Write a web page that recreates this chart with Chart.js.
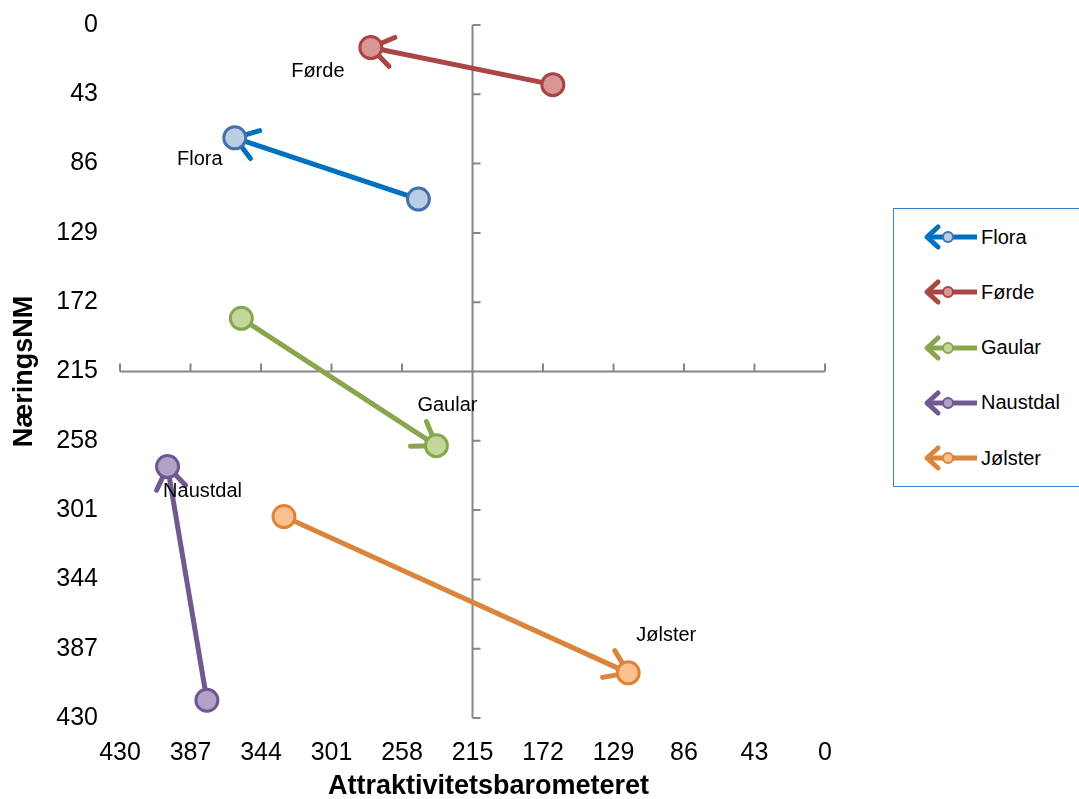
<!DOCTYPE html>
<html>
<head>
<meta charset="utf-8">
<script src="https://cdn.jsdelivr.net/npm/chart.js@4"></script>
<style>
  body { margin: 0; background: #fff; font-family: "Liberation Sans", Arial, sans-serif; }
  #wrap { position: relative; width: 1079px; height: 799px; }
  #legend { position: absolute; left: 893px; top: 208px; width: 200px; height: 279px;
    border: 1.5px solid #3A7FD0; box-sizing: border-box; background: #fff; }
  .item { position: absolute; left: 28px; height: 28px; display: flex; align-items: center;
    font-size: 20px; color: #000; }
  .item svg { margin-right: 3px; }
</style>
</head>
<body>
<div id="wrap">
  <canvas id="chart" width="1079" height="799"></canvas>
  <div id="legend"></div>
</div>
<script>
const names = ["Flora", "Førde", "Gaular", "Naustdal", "Jølster"];
// start -> end
const fromX = [248, 166, 356, 377, 330];
const fromY = [108, 37, 182, 419, 305];
const toX = [360, 277, 237, 401, 120];
const toY = [70, 14, 261, 274, 402];
const axisTicks = [0, 43, 86, 129, 172, 215, 258, 301, 344, 387, 430];

const lineColors = ["#0070C0", "#AA4643", "#89A54E", "#71588F", "#DB843D"];
const fillColors = ["#B9CDE5", "#D99694", "#C3D69B", "#B3A2C7", "#FAC090"];
const edgeColors = ["#4470AB", "#A94442", "#86A84C", "#6E5690", "#DF8437"];
const labelOffsets = [[-35, 22], [-53, 24], [11, -40], [35, 25], [38, -37]];

const datasets = names.map((n, i) => ({
  label: n,
  data: [{ x: fromX[i], y: fromY[i] }, { x: toX[i], y: toY[i] }],
  showLine: true,
  borderColor: lineColors[i],
  borderWidth: 5,
  pointRadius: 11,
  pointBorderWidth: 3,
  pointBackgroundColor: fillColors[i],
  pointBorderColor: edgeColors[i]
}));

const crossAxes = {
  id: "crossAxes",
  beforeDatasetsDraw(chart) {
    const { ctx, scales: { x, y } } = chart;
    const cx = x.getPixelForValue(215), cy = y.getPixelForValue(215);
    ctx.save();
    ctx.strokeStyle = "#868686";
    ctx.lineWidth = 2;
    ctx.beginPath();
    ctx.moveTo(x.getPixelForValue(430), cy);
    ctx.lineTo(x.getPixelForValue(0), cy);
    ctx.moveTo(cx, y.getPixelForValue(0));
    ctx.lineTo(cx, y.getPixelForValue(430));
    axisTicks.forEach(t => {
      const px = x.getPixelForValue(t);
      ctx.moveTo(px, cy);
      ctx.lineTo(px, cy - 8);
      const py = y.getPixelForValue(t);
      ctx.moveTo(cx, py);
      ctx.lineTo(cx + 8, py);
    });
    ctx.stroke();
    ctx.restore();
  },
  afterDraw(chart) {
    // x axis title, sits a little right of centre in the original
    const ctx = chart.ctx;
    ctx.save();
    ctx.font = "bold 27px 'Liberation Sans', Arial, sans-serif";
    ctx.fillStyle = "#000";
    ctx.textAlign = "center";
    ctx.textBaseline = "middle";
    ctx.fillText("Attraktivitetsbarometeret", (chart.chartArea.left + chart.chartArea.right) / 2 + 16, 787);
    ctx.restore();
  }
};

const arrows = {
  id: "arrows",
  beforeDatasetDraw(chart, args) {
    const i = args.index;
    const pts = chart.getDatasetMeta(i).data;
    const a = pts[0], b = pts[1];
    const ang = Math.atan2(b.y - a.y, b.x - a.x);
    const len = 26, spread = 0.6;
    const ctx = chart.ctx;
    ctx.save();
    ctx.strokeStyle = lineColors[i];
    ctx.lineWidth = 5;
    ctx.lineCap = "round";
    ctx.beginPath();
    [-spread, spread].forEach(s => {
      ctx.moveTo(b.x, b.y);
      ctx.lineTo(b.x - len * Math.cos(ang + s), b.y - len * Math.sin(ang + s));
    });
    ctx.stroke();
    ctx.restore();
  },
  afterDatasetsDraw(chart) {
    const ctx = chart.ctx;
    ctx.save();
    ctx.font = "20px 'Liberation Sans', Arial, sans-serif";
    ctx.fillStyle = "#000";
    ctx.textAlign = "center";
    ctx.textBaseline = "middle";
    names.forEach((n, i) => {
      const p = chart.getDatasetMeta(i).data[1];
      ctx.fillText(n, p.x + labelOffsets[i][0], p.y + labelOffsets[i][1]);
    });
    ctx.restore();
  }
};

const tickFont = { size: 25, family: "'Liberation Sans', Arial" };
const titleFont = { size: 27, weight: "bold", family: "'Liberation Sans', Arial", lineHeight: 1 };

new Chart(document.getElementById("chart"), {
  type: "scatter",
  data: { datasets },
  options: {
    responsive: false,
    animation: false,
    layout: { padding: { top: 25, right: 254, left: 0, bottom: 0 } },
    plugins: { legend: { display: false }, tooltip: { enabled: false } },
    scales: {
      x: {
        min: 0, max: 430, reverse: true,
        afterBuildTicks: s => { s.ticks = axisTicks.map(v => ({ value: v })); },
        grid: { display: false, drawTicks: false },
        border: { display: false },
        ticks: { color: "#000", font: tickFont, padding: 20, maxRotation: 0 },
        afterFit: s => { s.height = 81; s.paddingLeft = 0; s.paddingRight = 0; }
      },
      y: {
        min: 0, max: 430, reverse: true,
        afterBuildTicks: s => { s.ticks = axisTicks.map(v => ({ value: v })); },
        grid: { display: false, drawTicks: false },
        border: { display: false },
        ticks: { color: "#000", font: tickFont, padding: 22 },
        title: { display: true, text: "NæringsNM", color: "#000",
          font: titleFont, padding: { top: 11, bottom: 0 } },
        afterFit: s => { s.width = 120; s.paddingTop = 0; s.paddingBottom = 0; }
      }
    }
  },
  plugins: [crossAxes, arrows]
});

// legend
const legend = document.getElementById("legend");
names.forEach((n, i) => {
  const div = document.createElement("div");
  div.className = "item";
  div.style.top = (14 + i * 55.3) + "px";
  const c = lineColors[i];
  div.innerHTML =
    `<svg width="56" height="28" viewBox="0 0 56 28">
      <line x1="5" y1="14" x2="55" y2="14" stroke="${c}" stroke-width="5"/>
      <polyline points="16,4 5,14 16,24" fill="none" stroke="${c}" stroke-width="5" stroke-linecap="round" stroke-linejoin="round"/>
      <circle cx="26" cy="14" r="5" fill="${fillColors[i]}" stroke="${edgeColors[i]}" stroke-width="2"/>
    </svg><span>${n}</span>`;
  legend.appendChild(div);
});
</script>
</body>
</html>
